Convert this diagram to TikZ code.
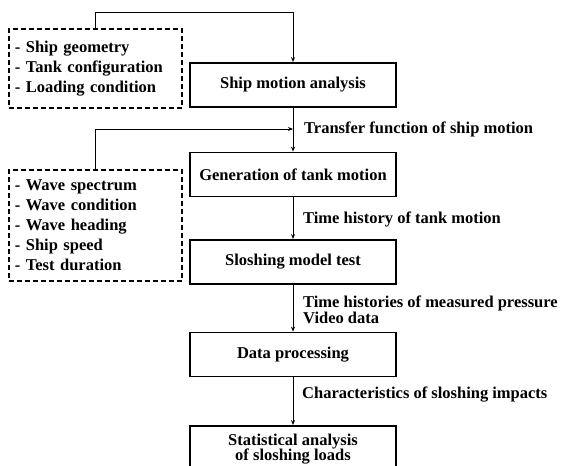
\documentclass[tikz,border=0pt]{standalone}
\usepackage{fontspec}
\setmainfont{Liberation Serif}
\usetikzlibrary{arrows.meta}
\begin{document}
\begin{tikzpicture}[x=1pt,y=-1pt,
  font=\bfseries\fontsize{16.5}{20}\selectfont,
  proc/.style={draw, line width=1.8pt, minimum width=206pt, minimum height=44pt, inner sep=2pt, align=center},
  param/.style={draw, dash pattern=on 5pt off 3pt, line width=1.8pt, anchor=north west, align=left, inner xsep=6pt, inner ysep=0pt, text width=161pt},
  conn/.style={line width=0.8pt, -{Stealth[length=5pt,width=4pt]}},
  lbl/.style={anchor=west, inner sep=0pt, align=left}]
\useasboundingbox (0,0) rectangle (563,466);
\clip (0,0) rectangle (563,466);
\node[proc] (ship) at (293,85) {Ship motion analysis};
\node[proc] (gen) at (293,174.5) {Generation of tank motion};
\node[proc] (slosh) at (293,262) {Sloshing model test};
\node[proc] (data) at (293,354.5) {Data processing};
\node[proc, minimum height=46pt, font=\bfseries\fontsize{16.5}{15.5}\selectfont] (stat) at (293,449) {Statistical analysis\\of sloshing loads};
\node[param, minimum height=79pt] (p1) at (8,28) {- Ship geometry\\- Tank configuration\\- Loading condition};
\node[param, minimum height=111pt] (p2) at (8,169) {- Wave spectrum\\- Wave condition\\- Wave heading\\- Ship speed\\- Test duration};
\coordinate (j1) at (ship.north |- 0,129);
\draw[conn] (p1.north -| 95,0) -- (95,12) -| (ship.north);
\draw[conn] (ship) -- (gen);
\draw[conn] (p2.north -| 95,0) |- (j1);
\draw[conn] (gen) -- (slosh);
\draw[conn] (slosh) -- (data);
\draw[conn] (data) -- (stat);
\node[lbl] (l1) at (304,129) {Transfer function of ship motion};
\node[lbl] (l2) at (303,219) {Time history of tank motion};
\node[lbl, font=\bfseries\fontsize{16.5}{16.5}\selectfont] (l3) at (303,310) {Time histories of measured pressure\\Video data};
\node[lbl] (l4) at (302,395) {Characteristics of sloshing impacts};
\end{tikzpicture}
\end{document}
